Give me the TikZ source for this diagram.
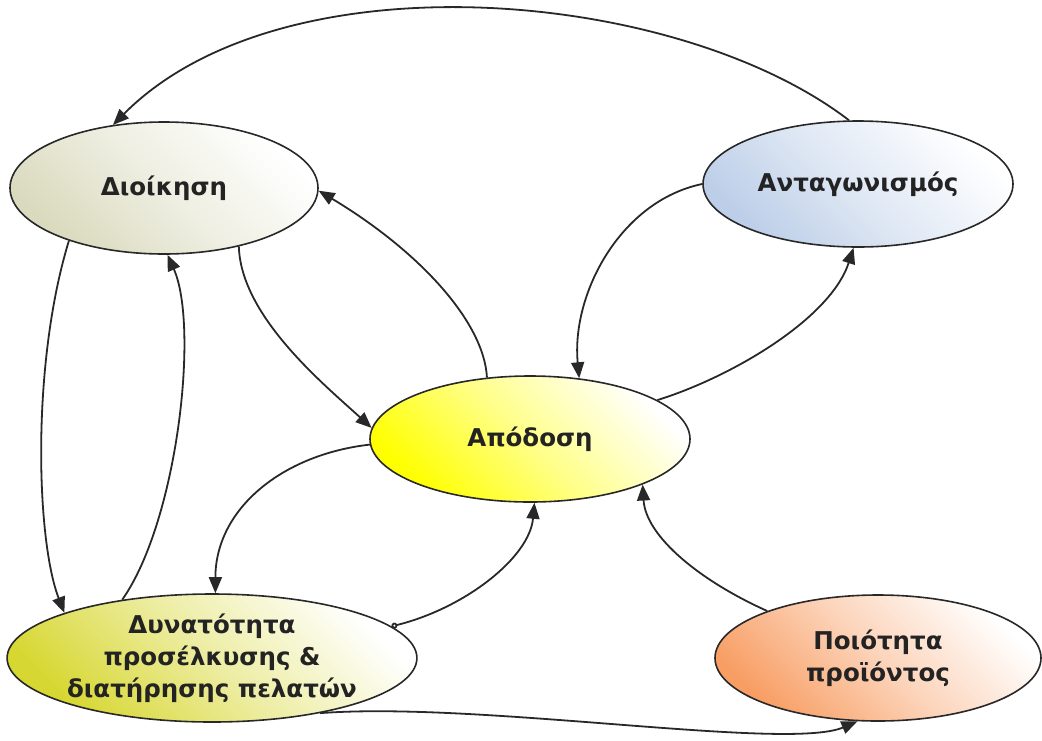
\documentclass[tikz,border=0pt]{standalone}
\usepackage{fontspec}
\setmainfont{DejaVu Sans}
\usetikzlibrary{shapes.geometric,arrows.meta}
\definecolor{linecol}{RGB}{40,40,40}
\definecolor{txtcol}{RGB}{35,35,35}
\definecolor{olivec}{RGB}{218,218,190}
\definecolor{bluec}{RGB}{188,206,232}
\definecolor{yellowc}{RGB}{255,255,0}
\definecolor{dyellowc}{RGB}{215,215,50}
\definecolor{orangec}{RGB}{248,158,100}
\tikzset{
  bubble/.style={ellipse, draw=linecol, line width=1.6pt, inner sep=0pt,
    text=txtcol, font=\fontsize{24.5}{32}\selectfont\bfseries, align=center},
  shade/.style={top color=white, bottom color=#1, middle color=#1!45!white, shading angle=-45},
  link/.style={draw=linecol, line width=1.8pt, -{Triangle[length=16pt,width=13pt]}},
}
\begin{document}
\begin{tikzpicture}[x=1pt,y=-1pt]
\useasboundingbox (0,0) rectangle (1042,740);
\node[bubble, minimum width=308, minimum height=132, shade=olivec] (dioik) at (164,188) {Διοίκηση};
\node[bubble, minimum width=310, minimum height=126, shade=bluec] (antag) at (858,184) {Ανταγωνισμός};
\node[bubble, minimum width=320, minimum height=126, shade=yellowc] (apod) at (530,439) {Απόδοση};
\node[bubble, minimum width=406, minimum height=128, shade=dyellowc] (dyn) at (212,658) {Δυνατότητα\\προσέλκυσης \&\\διατήρησης πελατών};
\node[bubble, minimum width=326, minimum height=126, shade=orangec] (poio) at (878,658) {Ποιότητα\\προϊόντος};

\draw[link] (antag.98) .. controls +(-172,-132) and +(170,-171) .. (dioik.129);
\draw[link] (dioik.209) .. controls +(-38,124) and +(-28,-72) .. (dyn.163);
\draw[link] (dyn.147) .. controls +(55,-78) and +(32,72) .. (dioik.273);
\draw[link] (dioik.322) .. controls +(2,70) and +(-47,-43) .. (apod.176);
\draw[link] (apod.125) .. controls +(-3,-56) and +(100,60) .. (dioik.359);
\draw[link] (antag.180) .. controls +(-82,17) and +(-8,-84) .. (apod.51);
\draw[link] (apod.17) .. controls +(74,-23) and +(-23,71) .. (antag.266);
\draw[link] (apod.182) .. controls +(-88,10) and +(0,-84) .. (dyn.87);
\draw[link, {Circle[open,length=6pt,width=6pt]}-{Triangle[length=16pt,width=13pt]}] (dyn.10) .. controls +(73,-18) and +(-5,55) .. (apod.274);
\draw[link] (poio.157) .. controls +(-67,-30) and +(3,52) .. (apod.338);
\draw[link] (dyn.333) .. controls +(160,-12) and +(-70,30) .. (poio.252);
\end{tikzpicture}
\end{document}
